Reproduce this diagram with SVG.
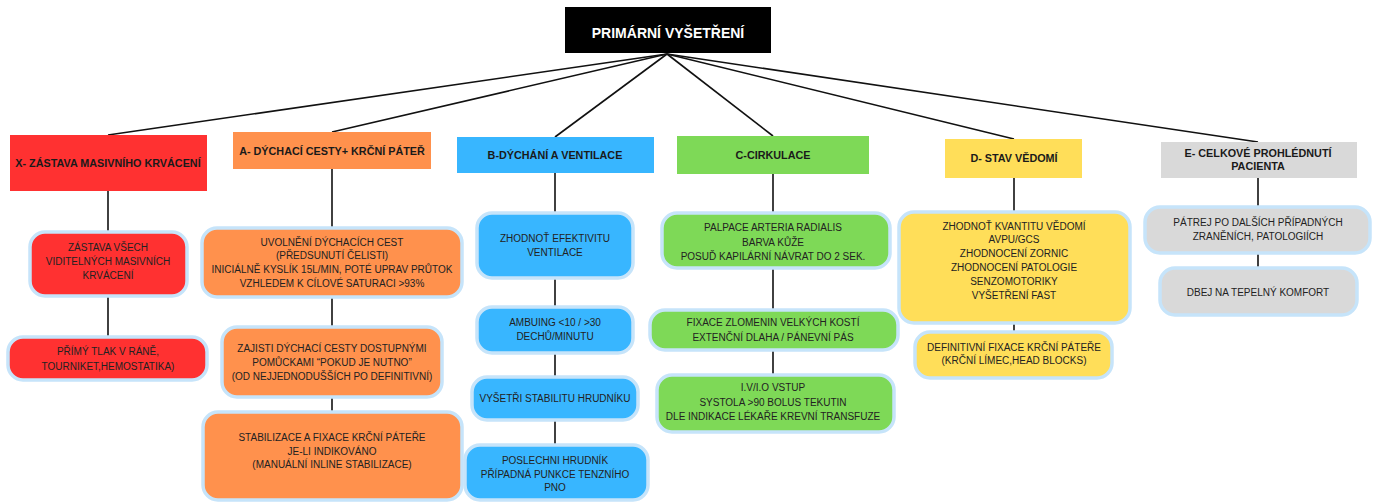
<svg xmlns="http://www.w3.org/2000/svg" width="1381" height="502" viewBox="0 0 1381 502">
<style>
.hd{font-family:"Liberation Sans",Arial,sans-serif;font-weight:bold;font-size:10.8px;fill:#1a1a1a;text-anchor:middle}
.tx{font-family:"Liberation Sans",Arial,sans-serif;font-size:10px;fill:#222;text-anchor:middle}
.top{font-family:"Liberation Sans",Arial,sans-serif;font-weight:bold;font-size:14px;fill:#fff;text-anchor:middle}
.cb{stroke:#c6e4fa;stroke-width:3.5}
.red{fill:#ff3131}.org{fill:#ff914d}.blu{fill:#38b6ff}.grn{fill:#7ed957}.yel{fill:#ffde59}.gry{fill:#d9d9d9}
.ln{stroke:#111;stroke-width:1.6;fill:none}
</style>
<rect width="1381" height="502" fill="#fff"/>
<g id="connectors" class="ln">
<line x1="667" y1="54" x2="108" y2="135"/>
<line x1="667" y1="54" x2="332" y2="132"/>
<line x1="667" y1="54" x2="555" y2="137"/>
<line x1="667" y1="54" x2="773" y2="136"/>
<line x1="667" y1="54" x2="1014" y2="139"/>
<line x1="667" y1="54" x2="1258" y2="142"/>
<line x1="108" y1="191" x2="108" y2="232"/>
<line x1="108" y1="296" x2="108" y2="337"/>
<line x1="332" y1="169" x2="332" y2="228"/>
<line x1="332" y1="297" x2="332" y2="327"/>
<line x1="332" y1="397" x2="332" y2="412"/>
<line x1="555" y1="173" x2="555" y2="213"/>
<line x1="555" y1="278" x2="555" y2="307"/>
<line x1="555" y1="353" x2="555" y2="377"/>
<line x1="555" y1="420" x2="555" y2="445"/>
<line x1="773" y1="174" x2="773" y2="213"/>
<line x1="773" y1="268" x2="773" y2="310"/>
<line x1="773" y1="350" x2="773" y2="375"/>
<line x1="1014" y1="178" x2="1014" y2="212"/>
<line x1="1014" y1="323" x2="1014" y2="332"/>
<line x1="1258" y1="178" x2="1258" y2="207"/>
<line x1="1258" y1="253" x2="1258" y2="268"/>
</g>
<g id="primarni">
<rect x="565" y="7" width="206" height="46" fill="#000"/>
<text class="top" x="668" y="38">PRIMÁRNÍ VYŠETŘENÍ</text>
</g>
<g id="hX"><rect class="red" x="10" y="135" width="197" height="56"/><text class="hd" x="108" y="167">X- ZÁSTAVA MASIVNÍHO KRVÁCENÍ</text></g>
<g id="hA"><rect class="org" x="233" y="132" width="198" height="37"/><text class="hd" x="332" y="155">A- DÝCHACÍ CESTY+ KRČNÍ PÁTEŘ</text></g>
<g id="hB"><rect class="blu" x="457" y="137" width="197" height="36"/><text class="hd" x="555" y="159">B-DÝCHÁNÍ A VENTILACE</text></g>
<g id="hC"><rect class="grn" x="677" y="136" width="192" height="38"/><text class="hd" x="773" y="159">C-CIRKULACE</text></g>
<g id="hD"><rect class="yel" x="945" y="139" width="137" height="39"/><text class="hd" x="1014" y="162">D- STAV VĚDOMÍ</text></g>
<g id="hE"><rect class="gry" x="1161" y="142" width="196" height="36"/><text class="hd" x="1258" y="157">E- CELKOVÉ PROHLÉDNUTÍ</text><text class="hd" x="1258" y="170">PACIENTA</text></g>

<g id="x1"><rect class="red cb" x="30" y="232" width="157" height="64" rx="15"/>
<text class="tx" x="108" y="251">ZÁSTAVA VŠECH</text><text class="tx" x="108" y="265">VIDITELNÝCH MASIVNÍCH</text><text class="tx" x="108" y="279">KRVÁCENÍ</text></g>
<g id="x2"><rect class="red cb" x="8" y="337" width="199" height="43" rx="15"/>
<text class="tx" x="108" y="355">PŘÍMÝ TLAK V RÁNĚ,</text><text class="tx" x="108" y="370">TOURNIKET,HEMOSTATIKA)</text></g>

<g id="a1"><rect class="org cb" x="202" y="228" width="260" height="69" rx="15"/>
<text class="tx" x="332" y="246">UVOLNĚNÍ DÝCHACÍCH CEST</text><text class="tx" x="332" y="259">(PŘEDSUNUTÍ ČELISTI)</text><text class="tx" x="332" y="273">INICIÁLNĚ KYSLÍK 15L/MIN, POTÉ UPRAV PRŮTOK</text><text class="tx" x="332" y="287">VZHLEDEM K CÍLOVÉ SATURACI &gt;93%</text></g>
<g id="a2"><rect class="org cb" x="222" y="327" width="220" height="70" rx="15"/>
<text class="tx" x="332" y="352">ZAJISTI DÝCHACÍ CESTY DOSTUPNÝMI</text><text class="tx" x="332" y="366">POMŮCKAMI “POKUD JE NUTNO”</text><text class="tx" x="332" y="380">(OD NEJJEDNODUŠŠÍCH PO DEFINITIVNÍ)</text></g>
<g id="a3"><rect class="org cb" x="203" y="412" width="259" height="88" rx="15"/>
<text class="tx" x="332" y="441">STABILIZACE A FIXACE KRČNÍ PÁTEŘE</text><text class="tx" x="332" y="455">JE-LI INDIKOVÁNO</text><text class="tx" x="332" y="468">(MANUÁLNÍ INLINE STABILIZACE)</text></g>

<g id="b1"><rect class="blu cb" x="477" y="213" width="156" height="65" rx="15"/>
<text class="tx" x="555" y="242">ZHODNOŤ EFEKTIVITU</text><text class="tx" x="555" y="256">VENTILACE</text></g>
<g id="b2"><rect class="blu cb" x="477" y="307" width="156" height="46" rx="15"/>
<text class="tx" x="555" y="326">AMBUING &lt;10 / &gt;30</text><text class="tx" x="555" y="340">DECHŮ/MINUTU</text></g>
<g id="b3"><rect class="blu cb" x="472" y="377" width="166" height="43" rx="15"/>
<text class="tx" x="555" y="402">VYŠETŘI STABILITU HRUDNÍKU</text></g>
<g id="b4"><rect class="blu cb" x="465" y="445" width="183" height="55" rx="15"/>
<text class="tx" x="555" y="464">POSLECHNI HRUDNÍK</text><text class="tx" x="555" y="478">PŘÍPADNÁ PUNKCE TENZNÍHO</text><text class="tx" x="555" y="491">PNO</text></g>

<g id="c1"><rect class="grn cb" x="662" y="213" width="228" height="55" rx="15"/>
<text class="tx" x="773" y="231">PALPACE ARTERIA RADIALIS</text><text class="tx" x="773" y="246">BARVA KŮŽE</text><text class="tx" x="773" y="260">POSUĎ KAPILÁRNÍ NÁVRAT DO 2 SEK.</text></g>
<g id="c2"><rect class="grn cb" x="650" y="310" width="248" height="40" rx="15"/>
<text class="tx" x="773" y="326">FIXACE ZLOMENIN VELKÝCH KOSTÍ</text><text class="tx" x="773" y="341">EXTENČNÍ DLAHA / PÁNEVNÍ PÁS</text></g>
<g id="c3"><rect class="grn cb" x="657" y="375" width="237" height="57" rx="15"/>
<text class="tx" x="773" y="391">I.V/I.O VSTUP</text><text class="tx" x="773" y="406">SYSTOLA &gt;90 BOLUS TEKUTIN</text><text class="tx" x="773" y="420">DLE INDIKACE LÉKAŘE KREVNÍ TRANSFUZE</text></g>

<g id="d1"><rect class="yel cb" x="899" y="212" width="231" height="111" rx="15"/>
<text class="tx" x="1014" y="230">ZHODNOŤ KVANTITU VĚDOMÍ</text><text class="tx" x="1014" y="243">AVPU/GCS</text><text class="tx" x="1014" y="257">ZHODNOCENÍ ZORNIC</text><text class="tx" x="1014" y="271">ZHODNOCENÍ PATOLOGIE</text><text class="tx" x="1014" y="285">SENZOMOTORIKY</text><text class="tx" x="1014" y="299">VYŠETŘENÍ FAST</text></g>
<g id="d2"><rect class="yel cb" x="915" y="332" width="197" height="46" rx="15"/>
<text class="tx" x="1014" y="351">DEFINITIVNÍ FIXACE KRČNÍ PÁTEŘE</text><text class="tx" x="1014" y="364">(KRČNÍ LÍMEC,HEAD BLOCKS)</text></g>

<g id="e1"><rect class="gry cb" x="1145" y="207" width="225" height="46" rx="15"/>
<text class="tx" x="1258" y="226">PÁTREJ PO DALŠÍCH PŘÍPADNÝCH</text><text class="tx" x="1258" y="240">ZRANĚNÍCH, PATOLOGIÍCH</text></g>
<g id="e2"><rect class="gry cb" x="1160" y="268" width="197" height="47" rx="15"/>
<text class="tx" x="1258" y="296">DBEJ NA TEPELNÝ KOMFORT</text></g>
</svg>
